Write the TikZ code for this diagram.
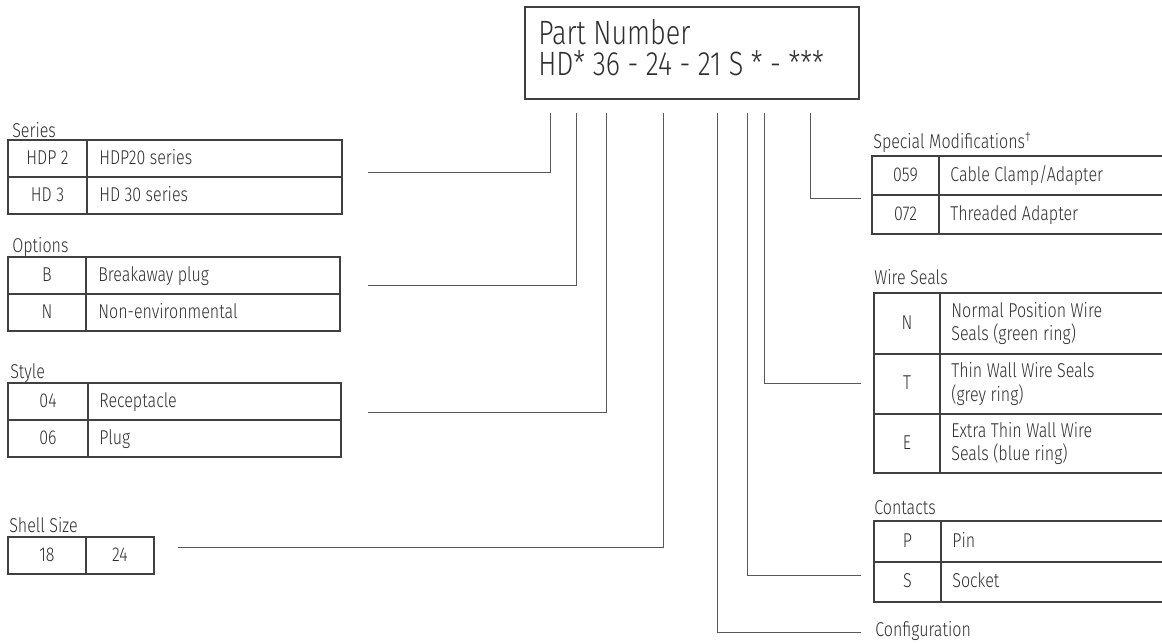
\documentclass[tikz,border=0pt]{standalone}
\usepackage{fontspec}
\setmainfont{Fira Sans Light}[FakeStretch=0.8]
\usetikzlibrary{positioning}
\definecolor{ink}{HTML}{2E2E2E}
\definecolor{rulecol}{HTML}{404040}
\definecolor{wirecol}{HTML}{585858}

\tikzset{
  tbl/.style={draw=rulecol, line width=0.8pt},
  wire/.style={draw=wirecol, line width=0.55pt},
  txt/.style={text=ink, inner sep=0pt, font=\fontsize{11.4}{13.2}\selectfont},
  lbl/.style={txt, anchor=base west},
  code/.style={txt, anchor=mid},
  desc/.style={txt, anchor=mid west, align=left},
  big/.style={text=ink, inner sep=0pt, anchor=base west, font=\fontsize{19.2}{19}\selectfont}
}

\begin{document}
\begin{tikzpicture}[x=0.02cm, y=-0.02cm]
  \useasboundingbox (0,0) rectangle (1162,642);

  % part number box
  \draw[tbl] (525,7) rectangle (859,99);
  \node[big] (pn1) at (538,45) {Part Number};
  \node[big] (pn2) at (538,76) {HD* 36 - 24 - 21 S * - ***};
  \foreach \x/\n in {550/ser, 576/opt, 606/sty, 663/shl, 717/cfg, 747/con, 764/wsl, 810/spm}
    \coordinate (t-\n) at (\x,113);

  % left tables
  \node[lbl] (lbl-ser) at (12,137) {Series};
  \draw[tbl] (8,140) rectangle (342,214);
  \draw[tbl] (8,177) -- (342,177) (87,140) -- (87,214);
  \node[code] (ser1) at (47.5,159.5) {HDP 2};
  \node[desc] (ser1d) at (99,159.5) {HDP20 series};
  \node[code] (ser2) at (47.5,196.5) {HD 3};
  \node[desc] (ser2d) at (99,196.5) {HD 30 series};

  \node[lbl] (lbl-opt) at (12,252) {Options};
  \draw[tbl] (8,257) rectangle (340,331);
  \draw[tbl] (8,294) -- (340,294) (86,257) -- (86,331);
  \node[code] (opt1) at (47,276.5) {B};
  \node[desc] (opt1d) at (98,276.5) {Breakaway plug};
  \node[code] (opt2) at (47,313.5) {N};
  \node[desc] (opt2d) at (98,313.5) {Non-environmental};

  \node[lbl] (lbl-sty) at (10,378) {Style};
  \draw[tbl] (8,383) rectangle (341,457);
  \draw[tbl] (8,420) -- (341,420) (88,383) -- (88,457);
  \node[code] (sty1) at (48,402.5) {04};
  \node[desc] (sty1d) at (99,402.5) {Receptacle};
  \node[code] (sty2) at (48,439.5) {06};
  \node[desc] (sty2d) at (99,439.5) {Plug};

  \node[lbl] (lbl-shl) at (9,532) {Shell Size};
  \draw[tbl] (8,537) rectangle (154,574);
  \draw[tbl] (86,537) -- (86,574);
  \node[code] (shl1) at (47,556.5) {18};
  \node[code] (shl2) at (120,556.5) {24};

  % right tables
  \node[lbl] (lbl-spm) at (873,148) {Special Modifications\textsuperscript{†}};
  \draw[tbl] (1175,156) -- (872,156) -- (872,234) -- (1175,234);
  \draw[tbl] (872,195) -- (1175,195) (939,156) -- (939,234);
  \node[code] (spm1) at (905.5,176.5) {059};
  \node[desc] (spm1d) at (950,176.5) {Cable Clamp/Adapter};
  \node[code] (spm2) at (905.5,215.5) {072};
  \node[desc] (spm2d) at (950,215.5) {Threaded Adapter};

  \node[lbl] (lbl-wsl) at (874,284) {Wire Seals};
  \draw[tbl] (1175,293) -- (874,293) -- (874,473) -- (1175,473);
  \draw[tbl] (874,354) -- (1175,354) (874,414) -- (1175,414) (940,293) -- (940,473);
  \node[code] (wsl1) at (907,324.5) {N};
  \node[desc, anchor=west] (wsl1d) at (951,323.5) {Normal Position Wire\\Seals (green ring)};
  \node[code] (wsl2) at (907,385) {T};
  \node[desc, anchor=west] (wsl2d) at (951,384) {Thin Wall Wire Seals\\(grey ring)};
  \node[code] (wsl3) at (907,444.5) {E};
  \node[desc, anchor=west] (wsl3d) at (951,443.5) {Extra Thin Wall Wire\\Seals (blue ring)};

  \node[lbl] (lbl-con) at (874,514) {Contacts};
  \draw[tbl] (1175,521) -- (874,521) -- (874,602) -- (1175,602);
  \draw[tbl] (874,562) -- (1175,562) (941,521) -- (941,602);
  \node[code] (con1) at (907.5,542.5) {P};
  \node[desc] (con1d) at (952,542.5) {Pin};
  \node[code] (con2) at (907.5,583) {S};
  \node[desc] (con2d) at (952,583) {Socket};

  \node[txt, anchor=mid west] (cfg) at (875,632) {Configuration};

  % connectors
  \coordinate (c-ser) at (368,172);
  \coordinate (c-opt) at (368,285);
  \coordinate (c-sty) at (368,412);
  \coordinate (c-shl) at (178,547);
  \coordinate (c-spm) at (861,198);
  \coordinate (c-wsl) at (861,383);
  \coordinate (c-con) at (861,575);
  \coordinate (c-cfg) at (861,632);
  \foreach \n in {ser, opt, sty, shl, spm, wsl, con, cfg}
    \draw[wire] (c-\n) -| (t-\n);
\end{tikzpicture}
\end{document}
